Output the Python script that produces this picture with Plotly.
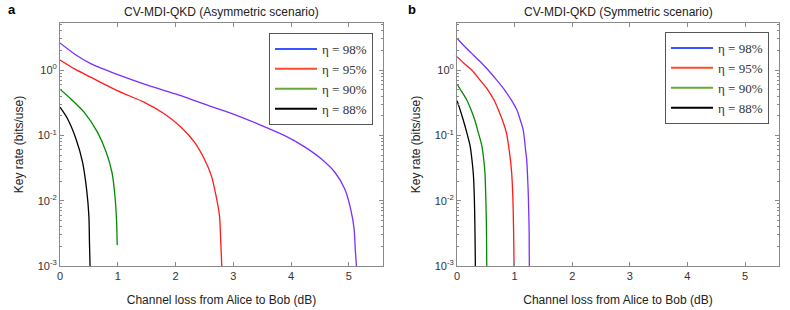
import plotly.graph_objects as go

# ---------------- data ----------------
labels = ["η = 98%", "η = 95%", "η = 90%", "η = 88%"]
curve_colors = ["#7b2fff", "#ff1a1a", "#008a00", "#000000"]
legend_colors = ["#3a55ff", "#ff4a2a", "#6aa83a", "#000000"]

# Asymmetric scenario (panel a)
a98_x = [0.0, 0.25, 0.54, 1.0, 1.46, 2.0, 2.5, 3.0, 3.43, 3.89, 4.24, 4.53, 4.76, 4.93, 5.03, 5.09, 5.11, 5.13]
a98_y = [2.59, 1.76, 1.24, 0.85, 0.61, 0.43, 0.30, 0.212, 0.149, 0.099, 0.066, 0.043, 0.027, 0.015, 0.0075, 0.0037, 0.0018, 0.001]

a95_x = [0.0, 0.25, 0.54, 1.0, 1.46, 1.81, 2.1, 2.33, 2.5, 2.62, 2.70, 2.76, 2.78, 2.80]
a95_y = [1.42, 1.04, 0.77, 0.48, 0.32, 0.212, 0.132, 0.078, 0.043, 0.024, 0.012, 0.0059, 0.0026, 0.001]

a90_x = [0.0, 0.19, 0.42, 0.65, 0.80, 0.90, 0.95, 0.98, 0.99]
a90_y = [0.51, 0.36, 0.225, 0.111, 0.055, 0.027, 0.012, 0.0047, 0.0021]

a88_x = [0.0, 0.133, 0.277, 0.39, 0.46, 0.50, 0.51, 0.52]
a88_y = [0.27, 0.178, 0.088, 0.039, 0.015, 0.0058, 0.0023, 0.001]

# Symmetric scenario (panel b)
s98_x = [0.0, 0.12, 0.255, 0.4, 0.54, 0.69, 0.83, 0.95, 1.04, 1.10, 1.15, 1.19, 1.21, 1.235, 1.245, 1.252, 1.256]
s98_y = [3.06, 2.35, 1.8, 1.35, 1.0, 0.70, 0.49, 0.34, 0.244, 0.17, 0.12, 0.06, 0.042, 0.0145, 0.007, 0.0035, 0.001]

s95_x = [0.0, 0.12, 0.255, 0.4, 0.54, 0.64, 0.72, 0.80, 0.86, 0.90, 0.93, 0.95, 0.97, 0.98, 0.986, 0.99]
s95_y = [1.6, 1.27, 1.0, 0.70, 0.49, 0.35, 0.244, 0.16, 0.107, 0.065, 0.040, 0.026, 0.011, 0.0045, 0.0022, 0.001]

s90_x = [0.0, 0.08, 0.168, 0.24, 0.31, 0.37, 0.43, 0.465, 0.486, 0.50, 0.51, 0.514, 0.517]
s90_y = [0.61, 0.47, 0.35, 0.25, 0.17, 0.11, 0.07, 0.042, 0.026, 0.011, 0.0045, 0.002, 0.001]

s88_x = [0.0, 0.055, 0.11, 0.17, 0.226, 0.26, 0.283, 0.30, 0.31, 0.315, 0.319]
s88_y = [0.34, 0.245, 0.17, 0.11, 0.070, 0.042, 0.026, 0.012, 0.0045, 0.002, 0.001]

x_ticks = [0, 1, 2, 3, 4, 5]
y_tickvals = [0.001, 0.01, 0.1, 1]
y_ticktext = ["10<sup>-3</sup>", "10<sup>-2</sup>", "10<sup>-1</sup>", "10<sup>0</sup>"]
titles = ["CV-MDI-QKD (Asymmetric scenario)", "CV-MDI-QKD (Symmetric scenario)"]
x_title = "Channel loss from Alice to Bob (dB)"
y_title = "Key rate (bits/use)"

# ---------------- figure ----------------
fig = go.Figure()

panels = [
    ([(a98_x, a98_y), (a95_x, a95_y), (a90_x, a90_y), (a88_x, a88_y)], "x", "y", "legend"),
    ([(s98_x, s98_y), (s95_x, s95_y), (s90_x, s90_y), (s88_x, s88_y)], "x2", "y2", "legend2"),
]
for series, xa, ya, lg in panels:
    for (xs, ys), c in zip(series, curve_colors):
        fig.add_trace(go.Scatter(x=xs, y=ys, mode="lines", xaxis=xa, yaxis=ya,
                                 line=dict(color=c, width=1.3, shape="spline", smoothing=0.8),
                                 showlegend=False, hoverinfo="skip"))
    for name, c in zip(labels, legend_colors):
        fig.add_trace(go.Scatter(x=[None], y=[None], mode="lines", xaxis=xa, yaxis=ya,
                                 name=name, line=dict(color=c, width=2),
                                 legend=lg, showlegend=True))

W, H = 790, 310
dom_a = [60 / W, 383 / W]
dom_b = [457 / W, 779 / W]
dom_y = [1 - 266 / H, 1 - 23 / H]

SANS = "Liberation Sans, Arial, sans-serif"
SERIF = "Liberation Serif, Times New Roman, serif"

axis_common = dict(showgrid=False, zeroline=False, showline=True, linecolor="#8a8a8a",
                   linewidth=1, mirror="allticks", ticks="inside", tickcolor="#8a8a8a",
                   ticklen=4, automargin=False,
                   tickfont=dict(family=SANS, size=11, color="#333333"))
xaxis_common = dict(axis_common, range=[0, 5.59], tickvals=x_ticks,
                    title=dict(text=x_title, font=dict(family=SANS, size=12, color="#222222"), standoff=14))
yaxis_common = dict(axis_common, type="log", range=[-3, 0.72], tickvals=y_tickvals, ticktext=y_ticktext,
                    minor=dict(ticks="inside", ticklen=2, tickcolor="#8a8a8a", dtick="D1", showgrid=False),
                    title=dict(text=y_title, font=dict(family=SANS, size=12, color="#222222"), standoff=11))

legend_common = dict(bgcolor="white", bordercolor="#555555", borderwidth=1,
                     font=dict(family=SERIF, size=13, color="#333333"),
                     xanchor="left", yanchor="top", tracegroupgap=0, itemwidth=42)

def ann(text, x, y, size, color="#222222"):
    return dict(text=text, x=x, y=y, xref="paper", yref="paper", showarrow=False,
                xanchor="center", yanchor="middle", font=dict(family=SANS, size=size, color=color))

fig.update_layout(
    width=W, height=H, margin=dict(l=0, r=0, t=0, b=0, autoexpand=False),
    paper_bgcolor="white", plot_bgcolor="white",
    xaxis=dict(xaxis_common, domain=dom_a, anchor="y"),
    yaxis=dict(yaxis_common, domain=dom_y, anchor="x"),
    xaxis2=dict(xaxis_common, domain=dom_b, anchor="y2"),
    yaxis2=dict(yaxis_common, domain=dom_y, anchor="x2"),
    legend=dict(legend_common, x=269 / W, y=1 - 33 / H),
    legend2=dict(legend_common, x=665 / W, y=1 - 32 / H),
    annotations=[
        ann(titles[0], (dom_a[0] + dom_a[1]) / 2, 1 - 12 / H, 12),
        ann(titles[1], (dom_b[0] + dom_b[1]) / 2, 1 - 12 / H, 12),
        ann("<b>a</b>", 12 / W, 1 - 10 / H, 13, "#000000"),
        ann("<b>b</b>", 412 / W, 1 - 10 / H, 13, "#000000"),
    ],
)

fig.write_html("out.html", config={"displayModeBar": False},
               post_script="document.body.style.margin='0px';")
